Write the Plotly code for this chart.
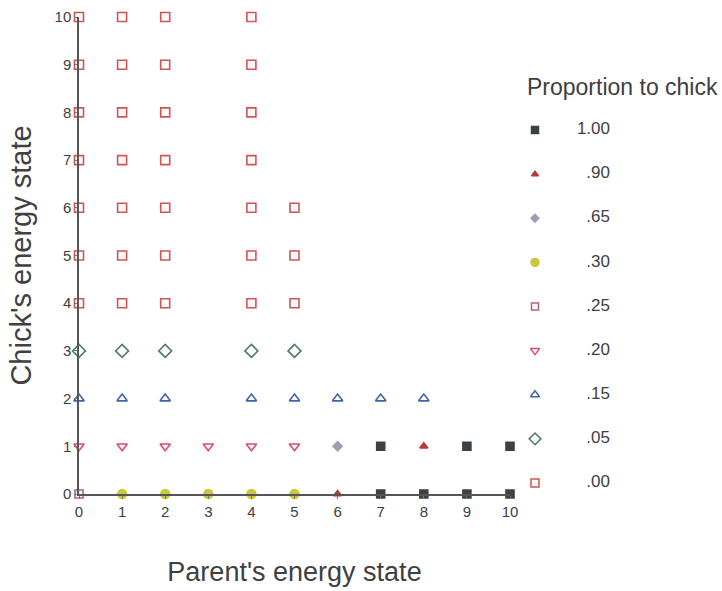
import plotly.graph_objects as go

# ---- data ----
parent_ticks = [0, 1, 2, 3, 4, 5, 6, 7, 8, 9, 10]
chick_ticks = [0, 1, 2, 3, 4, 5, 6, 7, 8, 9, 10]

legend_labels = ["1.00", ".90", ".65", ".30", ".25", ".20", ".15", ".05", ".00"]

p100_x = [7, 8, 9, 10, 7, 9, 10]
p100_y = [0, 0, 0, 0, 1, 1, 1]
p90_x = [6, 8]
p90_y = [0, 1]
p65_x = [6]
p65_y = [1]
p30_x = [1, 2, 3, 4, 5]
p30_y = [0, 0, 0, 0, 0]
p25_x = [0]
p25_y = [0]
p20_x = [0, 1, 2, 3, 4, 5]
p20_y = [1, 1, 1, 1, 1, 1]
p15_x = [0, 1, 2, 4, 5, 6, 7, 8]
p15_y = [2, 2, 2, 2, 2, 2, 2, 2]
p05_x = [0, 1, 2, 4, 5]
p05_y = [3, 3, 3, 3, 3]
p00_x = [0]*7 + [1]*7 + [2]*7 + [4]*7 + [5]*3
p00_y = [4, 5, 6, 7, 8, 9, 10]*4 + [4, 5, 6]

series_x = [p100_x, p90_x, p65_x, p30_x, p25_x, p20_x, p15_x, p05_x, p00_x]
series_y = [p100_y, p90_y, p65_y, p30_y, p25_y, p20_y, p15_y, p05_y, p00_y]

# ---- styles ----
symbols = ["square", "triangle-up", "diamond", "circle", "square-open",
           "triangle-down-open", "triangle-up-open", "diamond-open", "square-open"]
colors = ["#3b4242", "#b23a3a", "#a59cb2", "#c9c83e", "#b0607f",
          "#e0487a", "#4065a8", "#4d7d6a", "#d2544f"]
sizes = [8, 7, 7, 9, 8, 9, 9, 10, 9]

text_color = "#404040"
font_family = "Liberation Sans, Arial, sans-serif"

W, H = 722, 591
ML, MT, MB, MR = 79, 17, 80, 0
PW = W - ML - MR
PH = H - MT - MB


def fx(px):
    return (px - ML) / PW


def fy(py):
    return (H - MB - py) / PH


fig = go.Figure()

for i, lab in enumerate(legend_labels):
    fig.add_trace(go.Scatter(
        x=series_x[i], y=series_y[i], mode="markers", name=lab,
        marker=dict(symbol=symbols[i], color=colors[i], size=sizes[i],
                    line=dict(color=colors[i], width=1.6)),
        cliponaxis=False, showlegend=False, xaxis="x", yaxis="y"))

# custom legend drawn on a secondary subplot
rows = list(range(len(legend_labels)))
for i, lab in enumerate(legend_labels):
    fig.add_trace(go.Scatter(
        x=[0], y=[rows[i]], mode="markers",
        marker=dict(symbol=symbols[i], color=colors[i], size=sizes[i] - 1,
                    line=dict(color=colors[i], width=1.5)),
        cliponaxis=False, showlegend=False, xaxis="x2", yaxis="y2"))
fig.add_trace(go.Scatter(
    x=[1]*len(legend_labels), y=rows, mode="text", text=legend_labels,
    textposition="middle left",
    textfont=dict(family=font_family, size=17, color=text_color),
    cliponaxis=False, showlegend=False, xaxis="x2", yaxis="y2"))

row_step = 44.1
axis_style = dict(showgrid=False, zeroline=False, showline=True,
                  linecolor="#555555", linewidth=1.5, ticks="outside",
                  ticklen=3, tickcolor="#777777", automargin=False,
                  tickfont=dict(size=15, color=text_color))

fig.update_layout(
    width=W, height=H,
    margin=dict(l=ML, r=MR, t=MT, b=MB),
    plot_bgcolor="rgba(0,0,0,0)", paper_bgcolor="white",
    font=dict(family=font_family, color=text_color, size=15),
    xaxis=dict(domain=[0, fx(510)], range=[0, 10], tickvals=parent_ticks,
               anchor="y",
               title=dict(text="Parent's energy state", standoff=43,
                          font=dict(size=27, color=text_color)),
               **axis_style),
    yaxis=dict(domain=[fy(494), 1], range=[0, 10], tickvals=chick_ticks,
               anchor="x",
               title=dict(text="Chick's energy state", standoff=14,
                          font=dict(size=29, color=text_color)),
               **axis_style),
    xaxis2=dict(domain=[fx(535), fx(610)], range=[0, 1], visible=False,
                anchor="y2"),
    yaxis2=dict(domain=[fy(483 + row_step / 2), fy(130 - row_step / 2)],
                range=[8.5, -0.5], visible=False, anchor="x2"),
    annotations=[dict(text="Proportion to chick", xref="paper", yref="paper",
                      x=fx(622), y=fy(87), xanchor="center", yanchor="middle",
                      showarrow=False, font=dict(size=23, color=text_color))],
)

fig.write_html("out.html", config={"displayModeBar": False},
               post_script="document.body.style.margin='0';")
